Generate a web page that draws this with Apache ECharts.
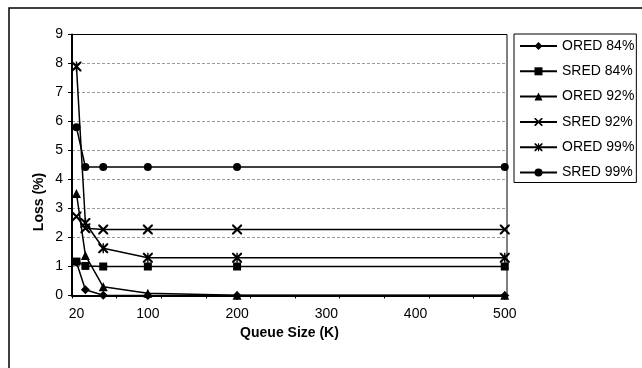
<!DOCTYPE html>
<html>
<head>
<meta charset="utf-8">
<script src="https://cdn.jsdelivr.net/npm/echarts@6/dist/echarts.min.js"></script>
<style>
  html, body { margin: 0; padding: 0; background: #fff; }
  #chart { width: 642px; height: 368px; }
</style>
</head>
<body>
<div id="chart"></div>
<script>
// queue sizes (K)
const queueSizes = [20, 30, 50, 100, 200, 500];
const xLabelValues = [20, 100, 200, 300, 400, 500];
const xTickValues = [15, 65, 115, 165, 215, 265, 315, 365, 415, 465];

const seriesNames = ["ORED 84%", "SRED 84%", "ORED 92%", "SRED 92%", "ORED 99%", "SRED 99%"];
const ored84 = [1.15, 0.2, 0.01, 0, 0, 0];
const sred84 = [1.17, 1.02, 1.0, 1.0, 1.0, 1.0];
const ored92 = [3.52, 1.38, 0.3, 0.08, 0.01, 0.01];
const sred92 = [2.72, 2.32, 2.28, 2.28, 2.28, 2.28];
const ored99 = [7.9, 2.5, 1.63, 1.3, 1.3, 1.3];
const sred99 = [5.8, 4.43, 4.43, 4.43, 4.43, 4.43];

// thin x and asterisk shapes
const xMark = "path://M0,0 L1.5,0 L10,8.5 L10,10 L8.5,10 L0,1.5 Z M8.5,0 L10,0 L10,1.5 L1.5,10 L0,10 L0,8.5 Z";
const starMark = xMark + " M4.3,0 L5.7,0 L5.7,10 L4.3,10 Z";

const font = "Liberation Sans, Arial, sans-serif";

function makeSeries(name, values, symbol, size) {
  return {
    name: name,
    type: "line",
    data: queueSizes.map((q, i) => [q, values[i]]),
    symbol: symbol,
    symbolSize: size,
    lineStyle: { color: "#000", width: 1.5 },
    itemStyle: { color: "#000" },
    animation: false
  };
}

const myChart = echarts.init(document.getElementById("chart"));
myChart.setOption({
  backgroundColor: "#fff",
  textStyle: { fontFamily: font },
  graphic: [
    {
      type: "rect",
      shape: { x: 9, y: 8, width: 640, height: 380 },
      style: { fill: "none", stroke: "#000", lineWidth: 1.5 },
      silent: true
    },
    {
      type: "text",
      x: 39,
      y: 202,
      rotation: Math.PI / 2,
      style: {
        text: "Loss (%)",
        font: "bold 14px " + font,
        fill: "#000",
        align: "center",
        verticalAlign: "middle"
      }
    }
  ],
  grid: {
    left: 72,
    right: 135,
    top: 34.5,
    bottom: 72.5,
    show: true,
    borderColor: "#000",
    borderWidth: 1
  },
  legend: {
    orient: "vertical",
    left: 514,
    top: 34,
    padding: [5, 2, 3, 5],
    itemWidth: 37,
    itemHeight: 10,
    itemGap: 11.3,
    borderColor: "#000",
    borderWidth: 1,
    data: seriesNames,
    textStyle: { fontSize: 14, color: "#000", fontFamily: font }
  },
  xAxis: {
    type: "value",
    min: 15,
    max: 502.5,
    name: "Queue Size (K)",
    nameLocation: "middle",
    nameGap: 31,
    nameTextStyle: { fontSize: 14, fontWeight: "bold", color: "#000" },
    axisLine: { lineStyle: { color: "#000", width: 2 } },
    axisTick: { customValues: xTickValues, length: 3, lineStyle: { color: "#000" } },
    axisLabel: { customValues: xLabelValues, fontSize: 14, color: "#000", margin: 12 },
    splitLine: { show: false }
  },
  yAxis: {
    type: "value",
    min: 0,
    max: 9,
    interval: 1,
    axisLine: { show: true, lineStyle: { color: "#000", width: 2 } },
    axisTick: { show: true, length: 4, lineStyle: { color: "#000" } },
    axisLabel: { fontSize: 14, color: "#000", margin: 9 },
    splitLine: {
      show: true,
      showMaxLine: false,
      lineStyle: { color: "#999", type: [3, 2], width: 1 }
    }
  },
  series: [
    makeSeries(seriesNames[0], ored84, "diamond", 9),
    makeSeries(seriesNames[1], sred84, "rect", 8),
    makeSeries(seriesNames[2], ored92, "triangle", 9),
    makeSeries(seriesNames[3], sred92, xMark, 10),
    makeSeries(seriesNames[4], ored99, starMark, 10),
    makeSeries(seriesNames[5], sred99, "circle", 8)
  ]
});
</script>
</body>
</html>
